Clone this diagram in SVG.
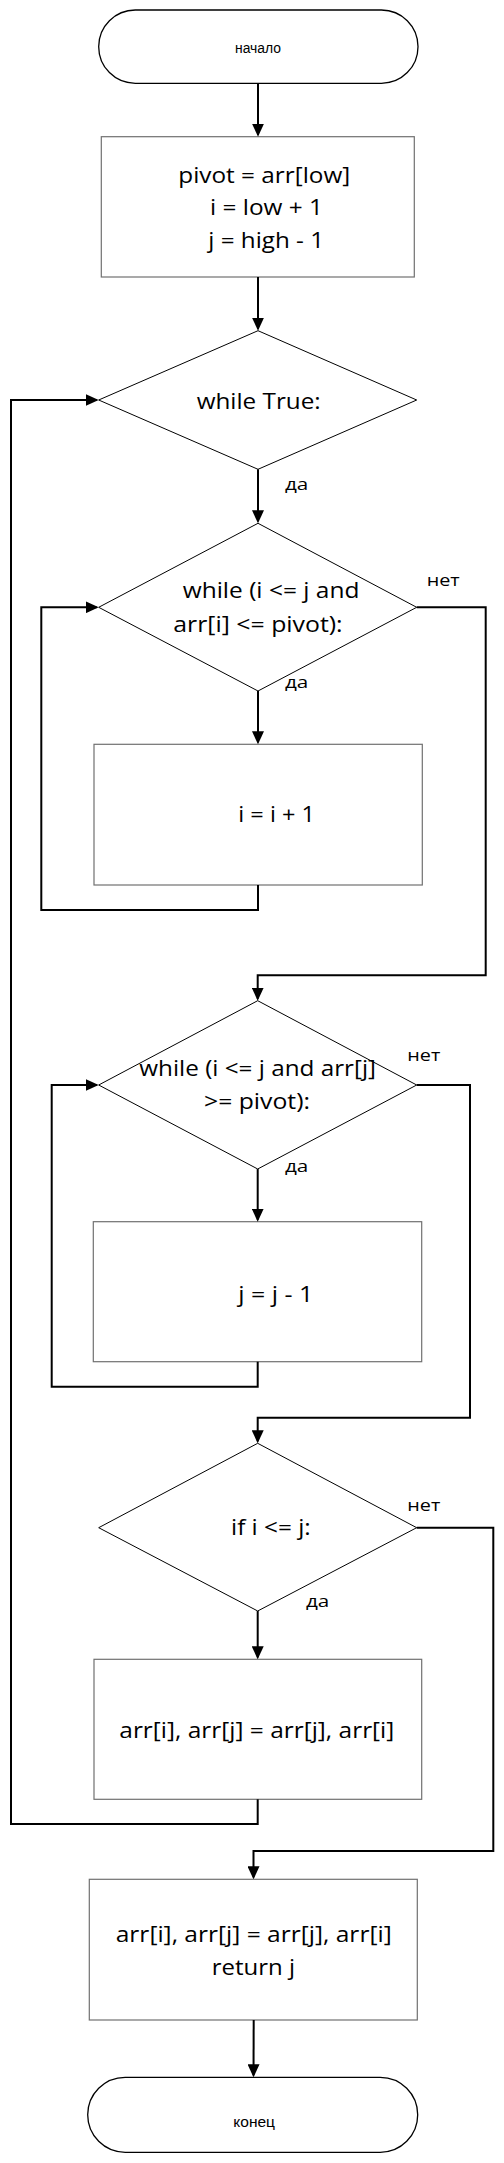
<svg xmlns="http://www.w3.org/2000/svg" width="504" height="2163" viewBox="0 0 504 2163">
<style>
.term{fill:#fff;stroke:#000;stroke-width:1.3}
.box{fill:#fff;stroke:#707070;stroke-width:1.2}
.dia{fill:#fff;stroke:#000;stroke-width:1}
.conn{fill:none;stroke:#000;stroke-width:2}
.t{font-family:"Open Sans","Liberation Sans",sans-serif;font-size:22px;fill:#000}
.lbl{font-family:"Open Sans","Liberation Sans",sans-serif;font-size:17px;fill:#000}
.sm{font-family:"Liberation Sans",Arial,sans-serif;font-size:14px;fill:#000}
</style>
<defs>
<marker id="arr" viewBox="0 0 13 12" refX="11" refY="6" markerWidth="13" markerHeight="12" markerUnits="userSpaceOnUse" orient="auto"><path d="M0,0 L13,6 L0,12 z" fill="#000"/></marker>
</defs>
<rect width="504" height="2163" fill="#fff"/>
<g id="start">
<rect class="term" x="98.7" y="10" width="319.3" height="73.3" rx="36.6" ry="36.6"/>
<text class="sm" x="235" y="53" textLength="46" lengthAdjust="spacingAndGlyphs">начало</text>
</g>
<g id="init">
<rect class="box" x="101.3" y="136.7" width="313" height="140.3"/>
<text class="t" x="178.3" y="183" textLength="172" lengthAdjust="spacingAndGlyphs">pivot = arr[low]</text>
<text class="t" x="210" y="215" textLength="113" lengthAdjust="spacingAndGlyphs">i = low + 1</text>
<text class="t" x="208.3" y="248" textLength="115.7" lengthAdjust="spacingAndGlyphs">j = high - 1</text>
</g>
<g id="whileTrue">
<polygon class="dia" points="258,330.7 416.7,400 258,469.3 98.7,400"/>
<text class="t" x="196.7" y="409" textLength="124" lengthAdjust="spacingAndGlyphs">while True:</text>
</g>
<g id="whileI">
<polygon class="dia" points="258,523.3 416.7,607.3 258,691 98.7,607.3"/>
<text class="t" x="182.7" y="598" textLength="176.7" lengthAdjust="spacingAndGlyphs">while (i &lt;= j and</text>
<text class="t" x="173.3" y="632" textLength="169.3" lengthAdjust="spacingAndGlyphs">arr[i] &lt;= pivot):</text>
</g>
<g id="incI">
<rect class="box" x="94" y="744.3" width="328.3" height="140.7"/>
<text class="t" x="238.3" y="822" textLength="76.7" lengthAdjust="spacingAndGlyphs">i = i + 1</text>
</g>
<g id="whileJ">
<polygon class="dia" points="257.7,1000.7 416.7,1085 257.7,1169 98.7,1085"/>
<text class="t" x="139.3" y="1076" textLength="236.7" lengthAdjust="spacingAndGlyphs">while (i &lt;= j and arr[j]</text>
<text class="t" x="204" y="1109" textLength="106" lengthAdjust="spacingAndGlyphs">&gt;= pivot):</text>
</g>
<g id="decJ">
<rect class="box" x="93.3" y="1221.7" width="328.4" height="140"/>
<text class="t" x="238.3" y="1302" textLength="75" lengthAdjust="spacingAndGlyphs">j = j - 1</text>
</g>
<g id="ifIJ">
<polygon class="dia" points="257.7,1443.3 416.7,1527.7 257.7,1611 98.7,1527.7"/>
<text class="t" x="231" y="1535" textLength="79.7" lengthAdjust="spacingAndGlyphs">if i &lt;= j:</text>
</g>
<g id="swap">
<rect class="box" x="94" y="1659.3" width="327.7" height="140"/>
<text class="t" x="119.3" y="1738" textLength="275" lengthAdjust="spacingAndGlyphs">arr[i], arr[j] = arr[j], arr[i]</text>
</g>
<g id="final">
<rect class="box" x="89.3" y="1879.3" width="328" height="140.7"/>
<text class="t" x="115.7" y="1942" textLength="276" lengthAdjust="spacingAndGlyphs">arr[i], arr[j] = arr[j], arr[i]</text>
<text class="t" x="211.7" y="1975" textLength="83.3" lengthAdjust="spacingAndGlyphs">return j</text>
</g>
<g id="end">
<rect class="term" x="87.7" y="2077.3" width="330" height="75" rx="37.5" ry="37.5"/>
<text class="sm" x="233.3" y="2126.5" textLength="41.7" lengthAdjust="spacingAndGlyphs">конец</text>
</g>
<g id="connectors">
<path class="conn" marker-end="url(#arr)" d="M258,83.3 V134.7"/>
<path class="conn" marker-end="url(#arr)" d="M258,277 V328.7"/>
<path class="conn" marker-end="url(#arr)" d="M257.7,1799.3 V1824 H11 V400 H96.7"/>
<path class="conn" marker-end="url(#arr)" d="M258,469.3 V521.3"/>
<path class="conn" marker-end="url(#arr)" d="M258,691 V742.3"/>
<path class="conn" marker-end="url(#arr)" d="M258,885 V910 H41.3 V607.3 H96.7"/>
<path class="conn" marker-end="url(#arr)" d="M416.7,607.3 H485.7 V975.3 H257.7 V998.7"/>
<path class="conn" marker-end="url(#arr)" d="M257.7,1169 V1219.7"/>
<path class="conn" marker-end="url(#arr)" d="M257.7,1361.7 V1386.7 H51.7 V1085 H96.7"/>
<path class="conn" marker-end="url(#arr)" d="M416.7,1085 H470 V1417.7 H257.7 V1441.3"/>
<path class="conn" marker-end="url(#arr)" d="M257.7,1611 V1657.3"/>
<path class="conn" marker-end="url(#arr)" d="M416.7,1527.7 H493.3 V1851 H253.5 V1877.3"/>
<path class="conn" marker-end="url(#arr)" d="M253.7,2020 L253.5,2075.3"/>
<text class="lbl" x="285" y="490" textLength="23.3" lengthAdjust="spacingAndGlyphs">да</text>
<text class="lbl" x="426.7" y="586" textLength="33" lengthAdjust="spacingAndGlyphs">нет</text>
<text class="lbl" x="285" y="687.7" textLength="23.3" lengthAdjust="spacingAndGlyphs">да</text>
<text class="lbl" x="407.3" y="1060.7" textLength="33" lengthAdjust="spacingAndGlyphs">нет</text>
<text class="lbl" x="285" y="1171.7" textLength="23.3" lengthAdjust="spacingAndGlyphs">да</text>
<text class="lbl" x="407.3" y="1510.7" textLength="33" lengthAdjust="spacingAndGlyphs">нет</text>
<text class="lbl" x="306" y="1607.3" textLength="23.3" lengthAdjust="spacingAndGlyphs">да</text>
</g>
</svg>
